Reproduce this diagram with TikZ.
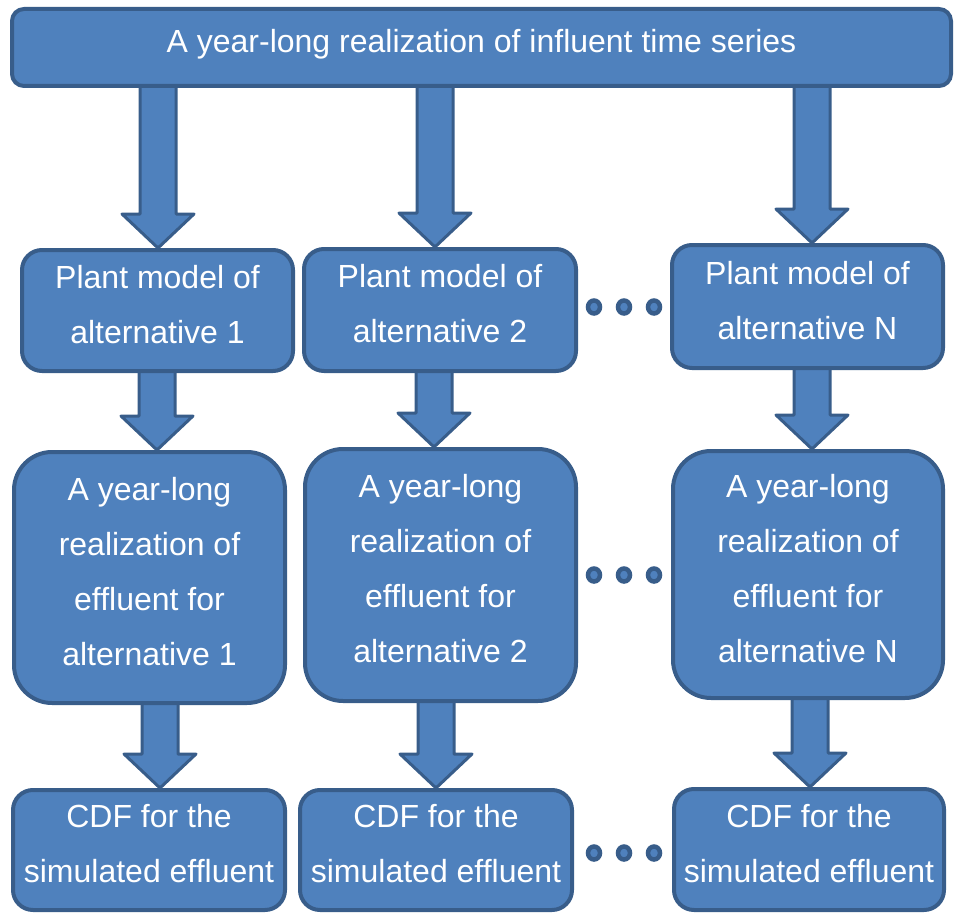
\documentclass[tikz,border=0pt]{standalone}
\usepackage{fontspec}
\setmainfont{Liberation Sans}
\usetikzlibrary{backgrounds}

\definecolor{boxblue}{HTML}{4F81BD}
\definecolor{edgeblue}{HTML}{385D8A}

% multi-line box text, lifted slightly above the geometric centre
\newcommand{\boxtext}[1]{\raisebox{6pt}[\height][\depth]{\begin{tabular}{@{}c@{}}#1\end{tabular}}}

% block arrow along column #1 from node #2 down to node #3
\newcommand{\fatarrow}[3]{%
  \path (#1 |- #2.south) coordinate (fa-s) (#1 |- #3.north) coordinate (fa-e);
  \draw[arrowbody] ([shift={(-18pt,6pt)}]fa-s) -- ([shift={(-18pt,34pt)}]fa-e)
    -- ([shift={(-36pt,34pt)}]fa-e) -- (fa-e) -- ([shift={(36pt,34pt)}]fa-e)
    -- ([shift={(18pt,34pt)}]fa-e) -- ([shift={(18pt,6pt)}]fa-s) -- cycle;
}

\tikzset{
  box/.style={draw=edgeblue, fill=boxblue, line width=4pt, text=white,
    inner sep=0pt, font=\fontsize{32}{55}\selectfont},
  arrowbody/.style={draw=edgeblue, fill=boxblue, line width=3pt, line join=round},
  dotmark/.style={draw=edgeblue, fill=boxblue, line width=4.5pt},
}

\begin{document}
\begin{tikzpicture}[x=1pt, y=-1pt]
\useasboundingbox (0,0) rectangle (956,915);

% input series
\node[box, rounded corners=12pt, minimum width=939pt, minimum height=77pt]
  (top) at (481.5,47.5) {\boxtext{A year-long realization of influent time series}};

% plant models
\node[box, rounded corners=20pt, minimum width=271pt, minimum height=121pt]
  (p1) at (157.5,310.5) {\boxtext{Plant model of\\alternative 1}};
\node[box, rounded corners=20pt, minimum width=272pt, minimum height=122pt]
  (p2) at (440,310) {\boxtext{Plant model of\\alternative 2}};
\node[box, rounded corners=20pt, minimum width=271pt, minimum height=123pt]
  (pN) at (807.5,306.5) {\boxtext{Plant model of\\alternative N}};

% effluent realizations
\node[box, rounded corners=38pt, minimum width=271pt, minimum height=251pt]
  (e1) at (149.5,577.5) {\boxtext{A year-long\\realization of\\effluent for\\alternative 1}};
\node[box, rounded corners=38pt, minimum width=271pt, minimum height=252pt]
  (e2) at (440.5,575) {\boxtext{A year-long\\realization of\\effluent for\\alternative 2}};
\node[box, rounded corners=38pt, minimum width=270pt, minimum height=247pt]
  (eN) at (808,574.5) {\boxtext{A year-long\\realization of\\effluent for\\alternative N}};

% distribution functions
\node[box, rounded corners=20pt, minimum width=272pt, minimum height=120pt]
  (c1) at (149,850) {\boxtext{CDF for the\\simulated effluent}};
\node[box, rounded corners=20pt, minimum width=272pt, minimum height=120pt]
  (c2) at (436,850) {\boxtext{CDF for the\\simulated effluent}};
\node[box, rounded corners=20pt, minimum width=270pt, minimum height=121pt]
  (cN) at (809,849.5) {\boxtext{CDF for the\\simulated effluent}};

% arrow columns
\coordinate (ka1) at (158,0);
\coordinate (ka2) at (435,0);
\coordinate (ka3) at (812,0);
\coordinate (kb1) at (157,0);
\coordinate (kb2) at (434,0);
\coordinate (kb3) at (812,0);
\coordinate (kc1) at (160,0);
\coordinate (kc2) at (436,0);
\coordinate (kc3) at (810,0);

\begin{pgfonlayer}{background}
  \fatarrow{ka1}{top}{p1}
  \fatarrow{ka2}{top}{p2}
  \fatarrow{ka3}{top}{pN}
  \fatarrow{kb1}{p1}{e1}
  \fatarrow{kb2}{p2}{e2}
  \fatarrow{kb3}{pN}{eN}
  \fatarrow{kc1}{e1}{c1}
  \fatarrow{kc2}{e2}{c2}
  \fatarrow{kc3}{eN}{cN}
\end{pgfonlayer}

% ellipsis dots between alternative 2 and alternative N
\foreach \y in {307,575,853}
  \foreach \x in {594,624,654}
    \draw[dotmark] (\x,\y) ellipse [x radius=6pt, y radius=6.5pt];
\end{tikzpicture}
\end{document}
